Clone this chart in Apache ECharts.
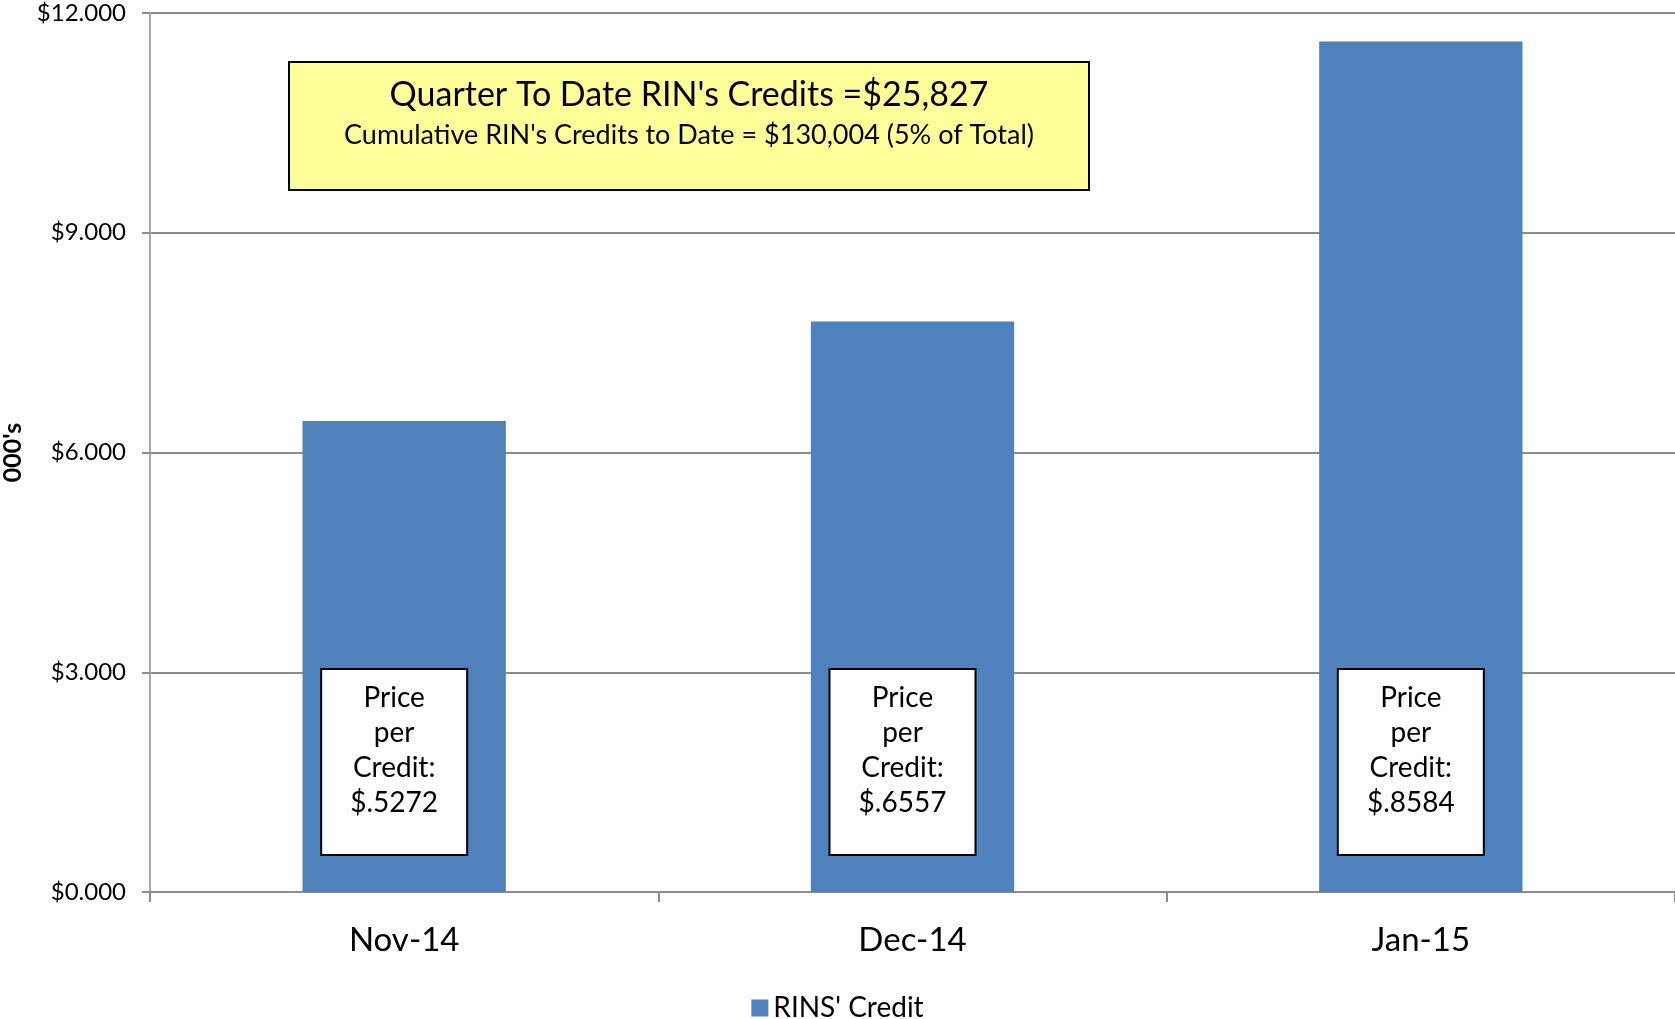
<!DOCTYPE html>
<html>
<head>
<meta charset="utf-8">
<script src="https://cdn.jsdelivr.net/npm/echarts@6/dist/echarts.min.js"></script>
<style>
html,body{margin:0;padding:0;background:#fff;}
#chart{width:1675px;height:1019px;}
</style>
</head>
<body>
<div id="chart"></div>
<script>
const categories = ['Nov-14', 'Dec-14', 'Jan-15'];
const rinsCredit = [6.43, 7.79, 11.61];
const pricePerCredit = ['$.5272', '$.6557', '$.8584'];
const seriesName = "RINS' Credit";
const yTicks = [0, 3, 6, 9, 12];
const summaryLine1 = "Quarter To Date RIN's Credits =$25,827";
const summaryLine2 = "Cumulative RIN's Credits to Date = $130,004 (5% of Total)";

const FONT = 'Lato, "Open Sans", sans-serif';
const chart = echarts.init(document.getElementById('chart'), null, {renderer: 'canvas'});

chart.setOption({
  backgroundColor: '#fff',
  animation: false,
  textStyle: {fontFamily: FONT},
  grid: {left: 150, right: 0, top: 13, bottom: 127, containLabel: false, outerBoundsMode: 'none'},
  legend: {
    top: 989, left: 'center',
    itemWidth: 17, itemHeight: 17, itemGap: 10,
    icon: 'rect',
    textStyle: {fontFamily: FONT, fontSize: 28, color: '#000'},
    data: [seriesName]
  },
  xAxis: {
    type: 'category',
    data: categories,
    axisLine: {lineStyle: {color: '#8c8c8c', width: 2}},
    axisTick: {show: true, length: 10, lineStyle: {color: '#8c8c8c', width: 2}},
    axisLabel: {fontFamily: FONT, fontSize: 33, color: '#000', margin: 32}
  },
  yAxis: {
    type: 'value',
    min: yTicks[0], max: yTicks[yTicks.length - 1], interval: 3,
    name: "000's",
    nameLocation: 'middle', nameRotate: 90, nameGap: 118,
    nameTextStyle: {fontFamily: FONT, fontSize: 25, fontWeight: 'bold', color: '#000'},
    axisLine: {show: true, lineStyle: {color: '#a6a6a6', width: 2}},
    axisTick: {show: true, length: 8, lineStyle: {color: '#8c8c8c', width: 2}},
    axisLabel: {fontFamily: FONT, fontSize: 24, color: '#000', margin: 24,
      formatter: v => '$' + v.toFixed(3)},
    splitLine: {show: true, lineStyle: {color: '#8c8c8c', width: 2}}
  },
  series: [{
    name: seriesName,
    type: 'bar',
    data: rinsCredit,
    barWidth: '40%',
    itemStyle: {color: '#4F81BD'},
    label: {
      show: true,
      position: 'insideBottom',
      distance: 38,
      offset: [-10, 0],
      formatter: p => 'Price\nper\nCredit:\n' + pricePerCredit[p.dataIndex],
      fontFamily: FONT, fontSize: 28, color: '#000',
      lineHeight: 35,
      align: 'center',
      backgroundColor: '#fff',
      borderColor: '#000', borderWidth: 2,
      width: 144, height: 140,
      padding: [10, 0, 34, 0]
    }
  }],
  graphic: [{
    type: 'group',
    children: [
      {type: 'rect', shape: {x: 289, y: 62, width: 800, height: 128},
        style: {fill: '#FFFF99', stroke: '#000', lineWidth: 2}},
      {type: 'text', x: 689, y: 95,
        style: {text: summaryLine1, fontFamily: FONT, fontSize: 34, fill: '#000',
          align: 'center', verticalAlign: 'middle'}},
      {type: 'text', x: 689, y: 135,
        style: {text: summaryLine2, fontFamily: FONT, fontSize: 27, fill: '#000',
          align: 'center', verticalAlign: 'middle'}}
    ]
  }]
});
</script>
</body>
</html>
